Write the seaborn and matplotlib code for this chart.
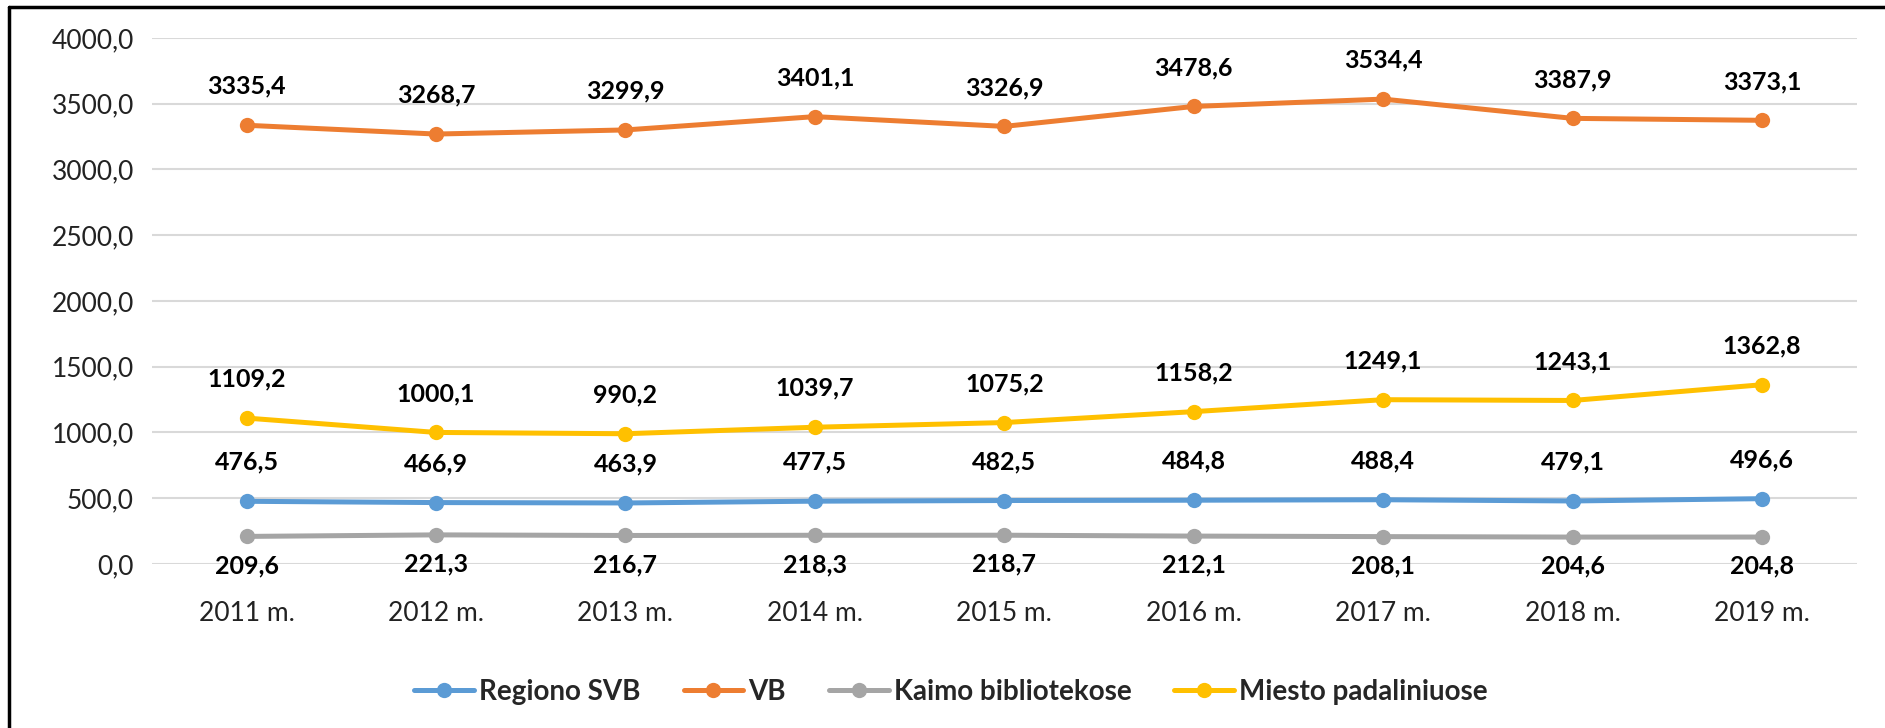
import matplotlib
matplotlib.use("Agg")
import matplotlib.pyplot as plt
import numpy as np
import pandas as pd
import seaborn as sns
from matplotlib.lines import Line2D

# --- data ---
years = ["2011 m.", "2012 m.", "2013 m.", "2014 m.", "2015 m.",
         "2016 m.", "2017 m.", "2018 m.", "2019 m."]
regiono_svb = [476.5, 466.9, 463.9, 477.5, 482.5, 484.8, 488.4, 479.1, 496.6]
vb = [3335.4, 3268.7, 3299.9, 3401.1, 3326.9, 3478.6, 3534.4, 3387.9, 3373.1]
kaimo = [209.6, 221.3, 216.7, 218.3, 218.7, 212.1, 208.1, 204.6, 204.8]
miesto = [1109.2, 1000.1, 990.2, 1039.7, 1075.2, 1158.2, 1249.1, 1243.1, 1362.8]

series_names = ["Regiono SVB", "VB", "Kaimo bibliotekose", "Miesto padaliniuose"]
series_values = [regiono_svb, vb, kaimo, miesto]
colors = ["#5B9BD5", "#ED7D31", "#A5A5A5", "#FFC000"]
label_below = {"Kaimo bibliotekose"}

y_ticks = [0, 500, 1000, 1500, 2000, 2500, 3000, 3500, 4000]


def fmt(v):
    return f"{v:.1f}".replace(".", ",")


rows = []
for name, vals in zip(series_names, series_values):
    for i, v in enumerate(vals):
        rows.append({"pos": i, "year": years[i], "series": name, "value": v})
df = pd.DataFrame(rows)

sns.set_theme(style="white")
plt.rcParams["font.family"] = ["Lato", "DejaVu Sans"]

fig = plt.figure(figsize=(18.85, 7.28), dpi=100)
ax = fig.add_axes([0.0806, 0.2253, 0.9044, 0.7227])

sns.lineplot(data=df, x="pos", y="value", hue="series", hue_order=series_names,
             palette=colors, marker="o", markersize=11, markeredgewidth=0,
             linewidth=3.6, ax=ax, legend=True)

# data labels
for name, vals in zip(series_names, series_values):
    below = name in label_below
    for i, v in enumerate(vals):
        ax.annotate(fmt(v), (i, v), xytext=(0, -21 if below else 28),
                    textcoords="offset points", ha="center", va="center",
                    fontsize=18, fontweight="bold", color="black")

ax.set_xlim(-0.5, len(years) - 0.5)
ax.set_ylim(0, 4000)
ax.set_xticks(range(len(years)))
ax.set_xticklabels(years)
ax.set_yticks(y_ticks)
ax.set_yticklabels([fmt(t) for t in y_ticks])
ax.tick_params(axis="x", length=0, pad=27, labelsize=19, colors="#222222")
ax.tick_params(axis="y", length=0, pad=13, labelsize=19, colors="#222222")
ax.set_xlabel("")
ax.set_ylabel("")
ax.yaxis.grid(True, color="#D9D9D9", linewidth=1.5)
ax.set_axisbelow(True)
for s in ax.spines.values():
    s.set_visible(False)

handles, labels = ax.get_legend_handles_labels()
ax.get_legend().remove()
fig.legend(handles, labels, loc="center", bbox_to_anchor=(951 / 1885, 1 - 692 / 728),
           ncol=4, frameon=False, prop={"weight": "bold", "size": 20},
           handlelength=2.15, handletextpad=0.18, columnspacing=1.55)

# screenshot frame: black lines on left and top
fig.add_artist(Line2D([9 / 1885, 9 / 1885], [0, 1 - 7 / 728], transform=fig.transFigure,
                      color="black", linewidth=2.5))
fig.add_artist(Line2D([9 / 1885, 1], [1 - 7 / 728, 1 - 7 / 728], transform=fig.transFigure,
                      color="black", linewidth=2.5))

fig.savefig("out.png", dpi=100, facecolor="white")
